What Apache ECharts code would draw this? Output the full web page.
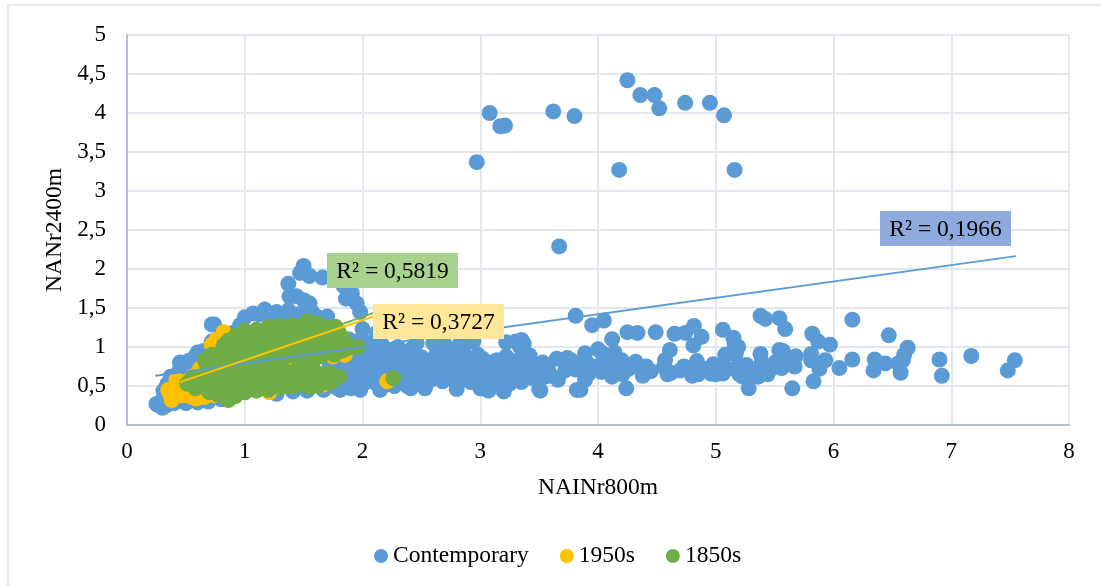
<!DOCTYPE html>
<html><head><meta charset="utf-8">
<style>html,body{margin:0;padding:0;background:#fff}#c{width:1101px;height:586px}</style>
<script src="https://cdn.jsdelivr.net/npm/echarts@6/dist/echarts.min.js"></script>
</head><body><div id="c"></div>
<script>
const seriesNames = ['Contemporary', '1950s', '1850s'];
const xTitle = 'NAINr800m';
const yTitle = 'NANr2400m';
const contemporaryHigh = [[2.97,3.37],[3.08,4.0],[3.17,3.83],[3.21,3.84],[3.62,4.02],[3.8,3.96],[4.18,3.27],[4.25,4.42],[4.36,4.23],[4.48,4.23],[4.52,4.06],[4.74,4.13],[4.95,4.13],[5.07,3.97],[5.16,3.27],[3.67,2.29]];
const contemporaryRight = [[3.81,1.40],[3.95,1.28],[4.05,1.34],[4.12,1.10],[4.25,1.19],[4.335,1.18],[4.49,1.19],[4.65,1.17],[4.74,1.18],[4.815,1.27],[4.88,1.13],[4.81,1.02],[5.06,1.22],[5.15,1.12],[5.16,1.05],[5.19,1.0],[5.38,1.40],[5.42,1.36],[5.54,1.37],[5.59,1.23],[5.82,1.17],[5.87,1.07],[5.97,1.03],[6.16,1.35],[6.47,1.15],[6.63,0.99],[6.6,0.90],[6.59,0.83],[6.55,0.79],[6.57,0.67],[6.35,0.84],[6.44,0.79],[6.34,0.70],[6.16,0.84],[6.05,0.73],[6.9,0.84],[6.92,0.63],[7.17,0.885],[7.54,0.83],[7.48,0.70],[5.83,0.56],[5.65,0.47],[5.93,0.83],[5.88,0.72],[5.81,0.91],[5.81,0.83],[5.68,0.88],[5.64,0.83],[5.67,0.75],[5.56,0.73],[5.51,0.81],[5.54,0.96],[5.57,0.95],[5.44,0.65],[5.41,0.75],[5.38,0.91],[5.39,0.81],[5.36,0.62],[5.28,0.65],[5.28,0.47],[5.2,0.65],[5.19,0.75],[5.26,0.77],[5.32,0.68],[5.08,0.90],[5.13,0.92],[5.17,0.91],[5.04,0.76],[4.98,0.78],[5.06,0.66],[4.96,0.66],[5.0,0.65],[4.84,0.82],[4.82,0.75],[4.85,0.65],[4.80,0.63],[4.73,0.75],[4.61,0.96],[4.57,0.83],[4.56,0.75],[4.59,0.65],[4.62,0.67],[4.41,0.75],[4.38,0.63],[4.32,0.81],[4.30,0.77],[4.21,0.65],[4.24,0.47],[4.2,0.83],[4.14,0.93],[4.08,0.77],[4.09,0.70],[4.05,0.88],[4.0,0.97],[4.03,0.93],[3.89,0.92],[3.9,0.81],[3.97,0.75],[4.03,0.68],[3.89,0.58],[3.85,0.45],[3.82,0.45],[3.81,0.71],[3.72,0.70],[3.74,0.86],[3.65,0.85],[3.66,0.58],[3.58,0.70],[3.51,0.44],[3.50,0.46],[3.5,0.72],[3.46,0.78],[3.42,0.89],[3.38,0.85],[3.37,0.63],[3.35,1.09],[3.37,1.04],[3.22,1.06],[3.2,0.65],[3.25,0.77],[3.2,0.43],[3.25,0.53],[3.2,0.7],[3.3,0.6],[3.33,0.74],[3.44,0.66],[3.53,0.8],[3.6,0.63],[3.78,0.82],[3.92,0.66],[4.12,0.62],[4.16,0.72],[4.26,0.72],[4.45,0.69],[4.7,0.7],[4.9,0.72],[5.1,0.72],[5.23,0.62],[5.47,0.72]];
const contemporaryPeak = [[1.50,2.04],[1.47,1.95],[1.55,1.91],[1.66,1.89],[1.37,1.81],[1.38,1.65],[1.44,1.65],[1.50,1.6],[1.55,1.56],[1.57,1.45],[1.17,1.48],[1.27,1.45],[1.37,1.47],[1.07,1.43],[1.0,1.38],[0.96,1.28],[0.72,1.29],[0.74,1.29],[1.84,1.78],[1.91,1.69],[1.86,1.62],[1.95,1.56],[1.98,1.45],[2.0,1.23],[2.12,1.18],[1.7,1.39],[0.9,1.18],[0.8,1.05],[0.7,0.97],[0.58,0.88],[0.45,0.80],[0.37,0.62],[0.31,0.44],[0.26,0.26],[0.3,0.22],[0.25,0.27],[0.33,0.25],[0.4,0.28],[0.5,0.28],[0.6,0.29],[0.69,0.3],[0.8,0.33],[0.3,0.32],[0.35,0.35],[0.34,0.52],[0.4,0.62],[0.44,0.68],[0.5,0.72],[0.52,0.82],[0.6,0.78],[0.65,0.95],[0.6,0.93],[0.72,1.07],[0.8,1.15],[1.12,1.42],[1.22,1.42],[1.32,1.42],[1.45,1.42],[1.52,1.4],[1.62,1.38]];
const contemporaryBand = [[1.27,0.4],[1.41,0.43],[1.53,0.44],[1.67,0.45],[1.81,0.45],[1.98,0.45],[2.15,0.45],[2.41,0.47],[2.53,0.47],[2.8,0.46],[3.0,0.47],[3.07,0.44],[2.27,0.5],[2.33,0.6],[1.9,0.55],[2.0,0.62],[2.05,0.75],[2.12,0.53],[2.18,0.7],[2.02,0.88],[2.23,0.94],[2.02,1.03],[2.1,0.9],[1.93,0.78],[2.25,0.82],[2.32,0.72],[2.38,0.92],[2.4,0.6],[2.46,0.76],[2.46,1.05],[2.5,0.87],[2.55,0.62],[2.6,1.05],[2.63,0.92],[2.6,0.74],[2.68,0.56],[2.7,1.03],[2.72,0.83],[2.77,0.92],[2.78,0.68],[2.83,1.05],[2.85,0.58],[2.9,0.86],[2.88,0.75],[2.94,1.07],[2.98,0.9],[2.95,0.66],[3.03,0.78],[3.1,0.6],[3.12,0.72],[3.14,0.83],[3.3,1.07],[3.34,1.0],[2.36,0.83],[2.42,0.68],[2.56,0.82],[2.65,0.66],[2.74,0.6],[2.92,0.55],[3.04,0.55],[2.2,0.6],[2.3,0.9],[2.15,0.82],[2.48,0.55],[1.75,0.7],[1.85,0.5],
[1.72,0.75],[1.8,0.75],[1.88,0.72],[1.95,0.65],[1.85,0.85],[1.95,0.9],[2.0,1.0],[1.9,0.47],[1.78,0.48],[1.88,1.1],[1.95,1.07],[2.05,1.05],[2.03,0.55],[2.06,0.68],[2.08,0.82],[2.1,0.97],[2.13,0.62],[2.15,0.75],[2.17,1.02],[2.2,0.52],[2.22,0.67],[2.24,0.78],[2.27,0.88],[2.3,0.55],[2.3,1.0],[2.34,0.66],[2.36,0.78],[2.38,0.5],[2.4,0.85],[2.42,0.98],[2.44,0.6],[2.47,0.7],[2.5,0.52],[2.53,0.7],[2.58,0.58],[2.58,0.83],[2.62,0.7],[2.66,0.8],[2.7,0.62],[2.72,0.93],[2.75,0.75],[2.8,0.56],[2.8,0.82],[2.83,0.68],[2.86,0.92],[2.9,0.65],[2.93,0.78],[2.97,0.58],[3.0,0.72],[3.02,0.85],[3.06,0.66],[3.08,0.52],[3.1,0.8],[3.15,0.6],[3.18,0.5],[3.18,0.78],[3.22,0.88],[3.28,0.7],[3.3,0.82],[3.35,0.55],[3.4,0.75],[3.45,0.6],[3.55,0.62]];
const orangeDots = [[0.38,0.32],[0.35,0.45],[0.42,0.58],[0.59,0.34],[0.47,0.38],[0.37,0.38],[0.41,0.48],[0.5,0.45],[0.55,0.36],[0.72,1.03],[0.76,1.09],[0.82,1.19],[0.85,1.13],[0.78,0.98],[0.62,0.72],[0.68,0.8],[0.75,0.38],[1.21,0.42],[1.1,0.45],[2.21,0.56],[1.58,0.82],[1.75,0.88],[1.67,0.52],[1.37,0.75],[1.5,0.75],[1.85,0.9],[1.0,0.8],[0.9,0.6],[0.44,0.42],[0.4,0.36],[0.52,0.38],[0.6,0.4],[0.66,0.36],[0.42,0.52],[0.5,0.55],[0.55,0.62],[0.6,0.66]];
const greenUpper = [[0.66,0.83],[0.72,0.9],[0.85,0.98],[0.86,1.08],[1.0,1.21],[1.1,1.22],[1.2,1.26],[1.3,1.27],[1.4,1.28],[1.53,1.33],[1.62,1.3],[1.77,1.26],[1.8,1.18],[1.78,1.1],[1.7,1.18],[1.85,0.97],[1.91,1.0],[1.96,1.0],[1.82,0.95],[1.72,0.95],[1.65,0.88],[1.55,0.88],[1.45,0.85],[1.32,0.84],[1.18,0.82],[1.05,0.82],[0.95,0.78],[0.82,0.78],[0.95,0.92],[1.05,1.0],[1.12,1.1],[1.22,1.14],[1.32,1.16],[1.42,1.18],[1.52,1.2],[1.6,1.15],[1.68,1.06],[1.58,1.02],[1.48,1.05],[1.38,1.02],[1.28,1.0],[1.18,0.98],[1.1,0.9],[1.22,0.88],[1.35,0.92],[1.48,0.95],[1.6,0.95],[0.98,1.08],[1.05,1.16],[1.27,1.2],[1.45,1.24],[1.15,1.03],[0.9,0.85],
[0.75,0.86],[0.8,0.93],[0.82,1.02],[0.9,1.05],[0.92,1.14],[0.98,0.88],[1.0,0.98],[1.03,0.9],[1.07,1.07],[1.09,1.2],[1.13,0.85],[1.16,0.95],[1.17,1.17],[1.2,1.06],[1.24,0.92],[1.25,1.23],[1.28,1.08],[1.3,0.87],[1.33,0.97],[1.35,1.22],[1.36,1.1],[1.4,0.9],[1.42,1.05],[1.44,0.97],[1.47,1.14],[1.5,1.28],[1.52,0.9],[1.54,1.07],[1.57,1.25],[1.59,0.84],[1.62,1.08],[1.64,1.21],[1.66,0.98],[1.7,1.25],[1.72,1.12],[1.74,1.03],[1.76,0.9],[1.8,1.04],[1.83,1.12],[1.87,1.03],[1.78,0.98]];
const greenLower = [[0.51,0.53],[0.55,0.6],[0.62,0.5],[0.7,0.42],[0.78,0.38],[0.86,0.32],[0.92,0.37],[1.0,0.42],[1.1,0.44],[1.2,0.45],[1.3,0.48],[1.42,0.5],[1.55,0.49],[1.66,0.54],[1.75,0.58],[1.8,0.62],[1.72,0.66],[1.6,0.68],[1.5,0.7],[1.4,0.68],[1.3,0.7],[1.18,0.72],[1.05,0.72],[0.92,0.72],[0.8,0.7],[0.7,0.68],[0.62,0.6],[0.75,0.55],[0.85,0.5],[0.95,0.55],[1.05,0.58],[1.15,0.6],[1.25,0.58],[1.35,0.58],[1.45,0.6],[1.55,0.6],[1.65,0.62],[0.9,0.62],[0.8,0.62],[1.0,0.48],[1.1,0.52],[1.2,0.55],[1.32,0.53],[0.78,0.46],[0.88,0.42],[2.26,0.6],
[0.58,0.47],[0.66,0.56],[0.68,0.46],[0.72,0.63],[0.74,0.5],[0.8,0.42],[0.83,0.56],[0.86,0.66],[0.88,0.35],[0.9,0.47],[0.96,0.42],[0.98,0.65],[1.0,0.54],[1.03,0.45],[1.08,0.65],[1.08,0.48],[1.12,0.58],[1.15,0.47],[1.18,0.66],[1.22,0.5],[1.25,0.63],[1.28,0.52],[1.33,0.64],[1.36,0.5],[1.4,0.6],[1.44,0.54],[1.48,0.65],[1.5,0.52],[1.53,0.67],[1.58,0.54],[1.6,0.6],[1.62,0.5],[1.7,0.6],[1.72,0.54],[1.78,0.62],[0.68,0.75],[0.72,0.77],[0.85,0.8],[1.0,0.75],[1.15,0.76],[1.28,0.77]];
const trendContemporary = [[0.24,0.63],[7.55,2.165]];
const trend1950s = [[0.45,0.55],[2.1,1.395]];
const trend1850s = [[0.45,0.55],[2.1,1.44]];
const colors = ['#5b9bd5', '#ffc000', '#70ad47'];
const labelTexts = ['R² = 0,5819', 'R² = 0,3727', 'R² = 0,1966'];

const serif = '"Liberation Serif","Times New Roman",serif';
function scat(name, data, i) {
  return { name, type: 'scatter', data, symbol: 'circle', symbolSize: 16,
    itemStyle: { color: colors[i], borderWidth: 0, opacity: 1 }, z: 2 + i, silent: true };
}
function trend(name, data, i, z) {
  return { name, type: 'line', data, symbol: 'none', lineStyle: { color: colors[i], width: 2 }, z, silent: true };
}
function box(x, y, w, h, fill, text) {
  return { type: 'group', x, y, children: [
    { type: 'rect', z: 100, shape: { x: 0, y: 0, width: w, height: h }, style: { fill } },
    { type: 'text', z: 101, style: { x: w / 2, y: h / 2 + 1, text, fill: '#000', font: '23.5px ' + serif, align: 'center', verticalAlign: 'middle' } }
  ]};
}
const chart = echarts.init(document.getElementById('c'), null, { renderer: 'canvas' });
chart.setOption({
  backgroundColor: '#fff',
  animation: false,
  textStyle: { fontFamily: serif },
  grid: { left: 127, top: 35, width: 942, height: 390 },
  xAxis: { type: 'value', min: 0, max: 8, interval: 1,
    name: xTitle, nameLocation: 'middle', nameGap: 51, nameTextStyle: { fontSize: 23.5, color: '#000', fontFamily: serif },
    axisLine: { show: true, onZero: false, lineStyle: { color: '#b3c0d2', width: 2 } }, axisTick: { show: false },
    axisLabel: { fontSize: 23, color: '#000', margin: 15, fontFamily: serif },
    splitLine: { show: true, lineStyle: { color: '#e2e6ed', width: 2 } } },
  yAxis: { type: 'value', min: 0, max: 5, interval: 0.5,
    name: yTitle, nameLocation: 'middle', nameGap: 60, nameTextStyle: { fontSize: 23.5, color: '#000', fontFamily: serif },
    axisLine: { show: true, onZero: false, lineStyle: { color: '#b3c0d2', width: 2 } }, axisTick: { show: false },
    axisLabel: { fontSize: 23, color: '#000', margin: 21, fontFamily: serif, formatter: v => String(v).replace('.', ',') },
    splitLine: { show: true, lineStyle: { color: '#e2e6ed', width: 2 } } },
  legend: { left: 374, top: 544, padding: 0, itemWidth: 14, itemHeight: 14, itemGap: 31, icon: 'circle',
    data: seriesNames, textStyle: { fontSize: 23.5, color: '#000', fontFamily: serif } },
  series: [
    scat(seriesNames[0], [...contemporaryHigh, ...contemporaryRight, ...contemporaryPeak, ...contemporaryBand], 0),
    trend('t0', trendContemporary, 0, 6),
    scat(seriesNames[1], orangeDots, 1),
    scat(seriesNames[2], [...greenLower, ...greenUpper], 2),
    trend('t2', trend1850s, 2, 7),
    trend('t1', trend1950s, 1, 8)
  ],
  graphic: [
    { type: 'polyline', z: 0, shape: { points: [[8, 590], [8, 5], [1105, 5]] }, style: { stroke: '#e4e8ef', lineWidth: 2, fill: 'none' } },
    box(327, 253, 131, 35, '#a9d18e', labelTexts[0]),
    box(373, 304, 131, 35, '#ffe699', labelTexts[1]),
    box(880, 211, 131, 35, '#8faadc', labelTexts[2])
  ]
});
</script></body></html>
